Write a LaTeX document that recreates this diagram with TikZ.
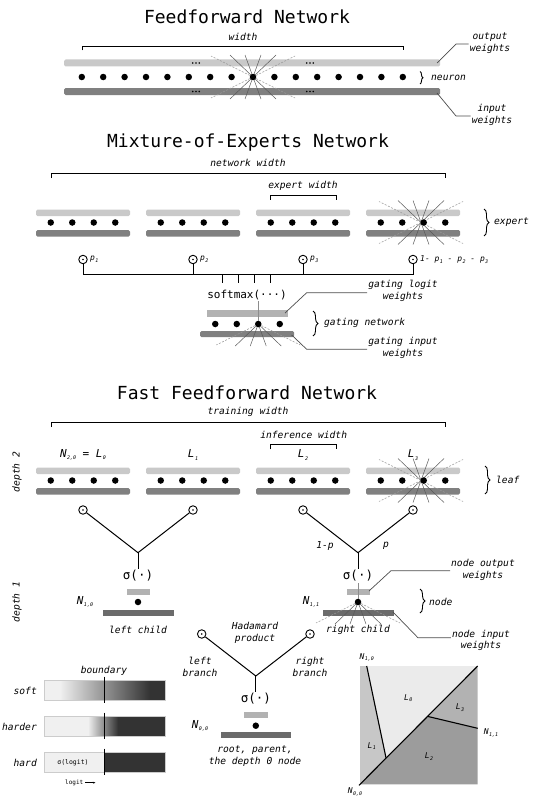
\documentclass[tikz,border=0pt]{standalone}
\usepackage{fontspec}
\setmainfont{DejaVu Sans Mono}
\usetikzlibrary{calc,decorations.pathreplacing,arrows.meta}

\definecolor{barlight}{gray}{0.79}
\definecolor{bardark}{gray}{0.5}
\definecolor{nodelight}{gray}{0.7}
\definecolor{nodedark}{gray}{0.42}
\definecolor{legl}{gray}{0.94}
\definecolor{legd}{gray}{0.2}

\newcommand\titlefont{\fontsize{18}{20}\selectfont}
\newcommand\labfont{\fontsize{9.6}{11.5}\selectfont\itshape}
\newcommand\opfont{\fontsize{12.5}{14}\selectfont}
\newcommand\namefont{\fontsize{11}{13}\selectfont\itshape}
\newcommand\idx[2]{#1\kern.4pt\raisebox{-.35ex}{\fontsize{5}{6}\selectfont#2}}

\def\bracket(#1,#2,#3){\draw[brk] (#1,#3+4.5) -- (#1,#3) -- (#2,#3) -- (#2,#3+4.5);}
\def\ellip(#1,#2){\foreach \d in {-3.2,0,3.2} \fill (#1+\d,#2) circle (0.9pt);}
\def\burst(#1,#2)[#3]{\foreach \s in {#3}{%
    \foreach \d in {-23,-8,8,23} \draw[ray] (#1,#2) -- ++(\d,\s*22);
    \foreach \d in {-42,42} \draw[dray] (#1,#2) -- ++(\d,\s*21);}}
\def\expert(#1,#2){\fill[outbar] (#1-47,#2-13) rectangle (#1+47,#2-6.5);
  \fill[inbar] (#1-47,#2+7.5) rectangle (#1+47,#2+14);}
\def\units(#1,#2){\foreach \o in {-32.25,-10.75,10.75,32.25} \node[unit] at (#1+\o,#2) {};}

\begin{document}
\begin{tikzpicture}[x=1pt,y=-1pt,
    heading/.style={font=\titlefont},
    lab/.style={font=\labfont, align=center, inner sep=1pt},
    op/.style={font=\opfont, inner sep=1pt},
    leafname/.style={font=\namefont, inner sep=1pt},
    outbar/.style={fill=barlight, rounded corners=1.5pt},
    inbar/.style={fill=bardark, rounded corners=1.5pt},
    nodeout/.style={fill=nodelight},
    nodein/.style={fill=nodedark},
    unit/.style={circle, fill=black, inner sep=0pt, minimum size=6.5pt},
    prod/.style={circle, draw, line width=0.9pt, inner sep=0pt, minimum size=8.5pt,
      path picture={\fill (path picture bounding box.center) circle (0.9pt);}},
    ray/.style={draw=black!65, line width=0.5pt},
    dray/.style={draw=black!40, dash pattern=on 2pt off 1.5pt, line width=0.5pt},
    tree/.style={line width=1pt},
    brk/.style={line width=0.8pt},
    lead/.style={draw=black!70, line width=0.7pt},
    gline/.style={draw=black!45, line width=0.8pt},
    curly/.style={decorate, decoration={brace, amplitude=#1}, line width=0.9pt}]
  \useasboundingbox (0,0) rectangle (533,800);

  %%%%% FEEDFORWARD %%%%%
  \node[heading] (t1) at (247,17) {Feedforward Network};
  \bracket(82,403,46)
  \node[lab] (w1) at (243,37) {width};
  \fill[outbar] (64,59.5) rectangle (440,66.5);
  \fill[inbar] (64,88) rectangle (440,95);
  \burst(253,77)[-1,1]
  \foreach \i in {0,...,15} \node[unit] (n\i) at (81.8+21.4*\i,77) {};
  \foreach \x in {196,310} \foreach \y in {63,91.5} {\ellip(\x,\y)}
  \node[lab] (ow) at (490,43) {output\\weights};
  \node[lab] (iw) at (492,115) {input\\weights};
  \draw[lead] (437,63) -- (456,44) -- (ow.west |- 0,44);
  \draw[lead] (437,93) -- (456,116) -- (iw.west |- 0,116);
  \draw[curly=3pt] (420,71.5) -- (420,84);
  \node[lab, anchor=west] (nr) at (430,77.5) {neuron};

  %%%%% MIXTURE OF EXPERTS %%%%%
  \node[heading] (t2) at (248,143) {Mixture-of-Experts Network};
  \node[lab] (nw) at (248,163) {network width};
  \bracket(51,445,173.5)
  \node[lab] (ew) at (303,186) {expert width};
  \bracket(270,336,195)
  \foreach \c in {83,193,303,413} {\expert(\c,222.5)}
  \burst(421,222.5)[-1,1]
  \foreach \c in {83,193,303,413} {\units(\c,222.5)}
  \draw[curly=5pt] (484,209) -- (484,236);
  \node[lab, anchor=west] (ex) at (493,222.5) {expert};
  \coordinate (bus) at (0,274.5);
  \node[prod] (g1) at (83,259.5) {};
  \node[prod] (g2) at (193,259.5) {};
  \node[prod] (g3) at (303,259.5) {};
  \node[prod] (g4) at (413,259.5) {};
  \node[lab, anchor=west, font=\fontsize{8}{9}\selectfont\itshape] (pl1) at (89,259.5) {\idx{p}{1}};
  \node[lab, anchor=west, font=\fontsize{8}{9}\selectfont\itshape] (pl2) at (199,259.5) {\idx{p}{2}};
  \node[lab, anchor=west, font=\fontsize{8}{9}\selectfont\itshape] (pl3) at (309,259.5) {\idx{p}{3}};
  \node[lab, anchor=west, font=\fontsize{8}{9}\selectfont\itshape] (pl4) at (419,259.5) {1- \idx{p}{1} - \idx{p}{2} - \idx{p}{3}};
  \foreach \g in {g1,g2,g3,g4} \draw[tree] (\g) -- (\g |- bus);
  \draw[tree] (g1 |- bus) -- (g4 |- bus);
  \foreach \x in {222,238,254,270} \draw[tree] (\x,274.5) -- (\x,283);
  \node[op, font=\fontsize{11}{13}\selectfont] (sm) at (247,295) {softmax(···)};
  \fill[nodeout] (207,310) rectangle (288,316.5);
  \fill[inbar] (200,331) rectangle (294,337);
  \burst(258.25,324)[1]
  \foreach \o [count=\k] in {-32.25,-10.75,10.75,32.25} \node[unit] (gd\k) at (247.5+\o,324) {};
  \draw[gline] (gd3 |- sm.south) -- (gd3);
  \draw[curly=5pt] (313,311) -- (313,336);
  \node[lab, anchor=west] (gn) at (323,323) {gating network};
  \node[lab] (gl) at (403,291) {gating logit\\weights};
  \node[lab] (gi) at (403,348) {gating input\\weights};
  \draw[lead] (285,313) -- (306.7,292.7) -- (gl.west |- 0,292.7);
  \draw[lead] (291.7,335) -- (306.7,349.3) -- (gi.west |- 0,349.3);

  %%%%% FAST FEEDFORWARD %%%%%
  \node[heading] (t3) at (247,393) {Fast Feedforward Network};
  \node[lab] (tw) at (248,412) {training width};
  \bracket(51,445,422.7)
  \node[lab] (iwd) at (303.7,435.3) {inference width};
  \bracket(270,336,444.8)
  \node[leafname] (L0) at (83,455) {\idx{N}{2,0} = \idx{L}{0}};
  \node[leafname] (L1) at (193,455) {\idx{L}{1}};
  \node[leafname] (L2) at (303,455) {\idx{L}{2}};
  \node[leafname] (L3) at (413,455) {\idx{L}{3}};
  \foreach \c in {83,193,303,413} {\expert(\c,480.5)}
  \burst(421,480.5)[-1,1]
  \foreach \c in {83,193,303,413} {\units(\c,480.5)}
  \draw[curly=5pt] (485,466) -- (485,494);
  \node[lab, anchor=west] (lf) at (495,480) {leaf};
  \node[lab, rotate=90] (d2) at (17,472) {depth 2};
  \node[lab, rotate=90] (d1) at (17,602) {depth 1};

  % depth 1 nodes
  \node[prod] (o0) at (83,510) {};
  \node[prod] (o1) at (193,510) {};
  \node[prod] (o2) at (303,510) {};
  \node[prod] (o3) at (413,510) {};
  \coordinate (j0) at (138,552.7);
  \coordinate (j1) at (358,552.7);
  \node[op] (s0) at (138,575.5) {σ(·)};
  \node[op] (s1) at (358,575.5) {σ(·)};
  \draw[tree] (o0) -- (j0) -- (o1);
  \draw[tree] (o2) -- (j1) -- (o3);
  \draw[tree] (j0) -- (s0.north);
  \draw[tree] (j1) -- (s1.north);
  \node[lab] (q0) at (325,546) {1-p};
  \node[lab] (q1) at (386,546) {p};
  \fill[nodeout] (126.5,588.5) rectangle (149.5,594.5);
  \fill[nodein] (103,609.5) rectangle (173.5,615.5);
  \node[unit] (nd0) at (138,602) {};
  \fill[nodeout] (346.5,588.5) rectangle (369.5,594.5);
  \fill[nodein] (323,609.5) rectangle (393.5,615.5);
  \draw[gline] (358,583) -- (358,602);
  \burst(358,602)[1]
  \node[unit] (nd1) at (358,602) {};
  \node[leafname] (N10) at (85,602) {\idx{N}{1,0}};
  \node[leafname] (N11) at (311,602) {\idx{N}{1,1}};
  \node[lab] (lc) at (138,630) {left child};
  \node[lab, fill=white, inner sep=0.5pt] (rc) at (358,630) {right child};
  \node[lab] (nod) at (483,570) {node output\\weights};
  \node[lab] (nid) at (481,640.5) {node input\\weights};
  \draw[lead] (369,591) -- (391,570.7) -- (nod.west |- 0,570.7);
  \draw[lead] (393,612) -- (418,637.8) -- (nid.west |- 0,637.8);
  \draw[curly=5pt] (420,589) -- (420,613);
  \node[lab, anchor=west] (nn) at (428,602) {node};

  % root node
  \node[lab] (hp) at (255,633) {Hadamard\\product};
  \node[prod] (r0) at (201.7,634) {};
  \node[prod] (r1) at (310,634) {};
  \coordinate (jr) at (255.8,676);
  \node[op] (sr) at (255.8,698.3) {σ(·)};
  \draw[tree] (r0) -- (jr) -- (r1);
  \draw[tree] (jr) -- (sr.north);
  \node[lab] (lb) at (200,666.7) {left\\branch};
  \node[lab] (rb) at (310,666.7) {right\\branch};
  \fill[nodeout] (244,711.7) rectangle (267.5,717.7);
  \fill[nodein] (220.5,732.3) rectangle (291,738.3);
  \node[unit] (ndr) at (255.8,725.7) {};
  \node[leafname] (N00) at (200,726) {\idx{N}{0,0}};
  \node[lab] (rt) at (255,756.3) {root, parent,\\the depth 0 node};

  %%%%% LEGEND %%%%%
  \node[lab] (bd) at (104,670.7) {boundary};
  \fill[legl] (44,680.7) rectangle (60,700);
  \shade[left color=legl, right color=legd] (60,680.7) rectangle (150,700);
  \fill[legd] (150,680.7) rectangle (165,700);
  \fill[legl] (44,716.7) rectangle (88,736);
  \shade[left color=legl, right color=legd] (88,716.7) rectangle (118,736);
  \fill[legd] (118,716.7) rectangle (165,736);
  \fill[legl] (44,752.7) rectangle (104.3,772.7);
  \fill[legd] (104.3,752.7) rectangle (165,772.7);
  \foreach \y in {680.7,716.7,752.7} {
    \draw[black!20, line width=0.5pt] (44,\y) rectangle (165,\y+19.5);
    \draw[line width=1.1pt] (104.3,\y-4) -- (104.3,\y+22.5);}
  \node[lab, anchor=east] (ls) at (38,690.5) {soft};
  \node[lab, anchor=east] (lh) at (38,726.5) {harder};
  \node[lab, anchor=east] (lx) at (38,762.7) {hard};
  \node[font=\fontsize{6.5}{7}\selectfont, inner sep=0pt] (sl) at (73,762.7) {σ(logit)};
  \node[font=\fontsize{6}{7}\selectfont, inner sep=0pt, anchor=west] (lg) at (65,782.7) {logit};
  \draw[-{Stealth[length=2.5pt]}, line width=0.5pt] ($(lg.east)+(2,0)$) -- ++(10,0);

  %%%%% PARTITION %%%%%
  \coordinate (pa) at (360,784.3);
  \coordinate (pb) at (477.7,666);
  \coordinate (pc) at (366.7,666);
  \coordinate (pd) at (386,757.8);
  \coordinate (pe) at (427.7,716.4);
  \coordinate (pf) at (477.7,728.3);
  \fill[black!22] (360,666) -- (pc) -- (pd) -- (pa) -- cycle;
  \fill[black!8] (pc) -- (pb) -- (pd) -- cycle;
  \fill[black!30] (pb) -- (pf) -- (pe) -- cycle;
  \fill[black!39] (pa) -- (pe) -- (pf) -- (477.7,784.3) -- cycle;
  \draw[line width=1.1pt] ($(pa)+(-1,1)$) -- (pb);
  \draw[line width=1.1pt] (pc) -- (pd);
  \draw[line width=1.1pt] (pe) -- (pf);
  \begin{scope}[every node/.style={font=\fontsize{8}{9}\selectfont\itshape, inner sep=0pt}]
    \node (pN10) at (366.7,657.3) {\idx{N}{1,0}};
    \node (pL0) at (408.3,698.3) {\idx{L}{0}};
    \node (pL3) at (460,707.7) {\idx{L}{3}};
    \node (pL1) at (371.7,746) {\idx{L}{1}};
    \node (pL2) at (429,756.7) {\idx{L}{2}};
    \node (pN11) at (491,732.7) {\idx{N}{1,1}};
    \node (pN00) at (355,791.7) {\idx{N}{0,0}};
  \end{scope}
\end{tikzpicture}
\end{document}
